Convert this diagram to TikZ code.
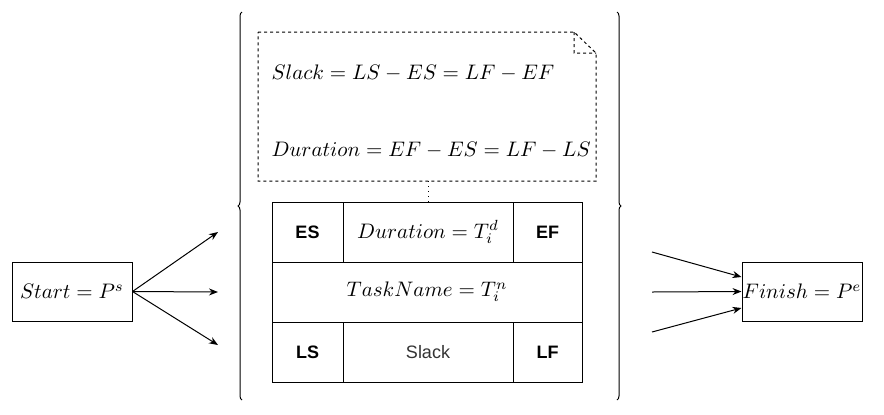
\RequirePackage{fix-cm}
\documentclass[tikz,border=0pt]{standalone}
\usepackage{fontspec}
\setsansfont{Liberation Sans}
\usetikzlibrary{arrows.meta,decorations.pathreplacing}
\begin{document}
\begin{tikzpicture}[x=0.5pt,y=-0.5pt,line width=0.5pt,
                    >={Stealth[length=4.5pt,width=3.5pt]},
                    eq/.style={font=\fontsize{10.5}{13}\selectfont},
                    event/.style={draw,eq,minimum width=60pt,minimum height=29.5pt,inner sep=0pt},
                    cell/.style={draw,minimum height=30pt,inner sep=0pt},
                    tag/.style={font=\sffamily\bfseries\fontsize{9}{11}\selectfont},
                    curly/.style={decorate,decoration={brace,amplitude=2pt}}]
\useasboundingbox (0,0) rectangle (884,414);
% events
\node[event] (start) at (72,291.5) {$Start = P^s$};
\node[event] (finish) at (802,291.5) {$Finish = P^e$};
% note
\draw[dash pattern=on 1.5pt off 1.5pt] (258,32) -- (574,32) -- (596,53) -- (596,181) -- (258,181) -- cycle
    (574,32) -- (574,53) -- (596,53);
\coordinate (note) at (428,181);
\node[eq,anchor=west,inner sep=0pt] (slackeq) at (271,73) {$Slack = LS - ES = LF - EF$};
\node[eq,anchor=west,inner sep=0pt] (dureq) at (271,150) {$Duration = EF - ES = LF - LS$};
% task box
\node[cell,tag,minimum width=35.5pt] (es) at (307.5,232) {ES};
\node[cell,eq,minimum width=85pt] (dur) at (428,232) {$Duration = T_i^d$};
\node[cell,tag,minimum width=34.5pt] (ef) at (547.5,232) {EF};
\node[cell,eq,minimum width=155pt] (name) at (427,292) {$TaskName = T_i^n$};
\node[cell,tag,minimum width=35.5pt] (ls) at (307.5,352) {LS};
\node[cell,font=\sffamily\fontsize{9}{11}\selectfont,text=black!80,minimum width=85pt] (slk) at (428,352) {Slack};
\node[cell,tag,minimum width=34.5pt] (lf) at (547.5,352) {LF};
\draw[dotted] (note) -- (dur.north);
% braces
\draw[curly] (242,400) -- (242,12);
\draw[curly] (617,12) -- (617,400);
% arrows
\foreach \y [count=\i] in {232,292,345} {
  \coordinate (in\i) at (218,\y);
  \draw[->] (start.east) -- (in\i);
}
\foreach \y/\s [count=\i] in {252/7.25pt,292/0pt,332/-8.25pt} {
  \coordinate (out\i) at (652,\y);
  \draw[->] (out\i) -- ([yshift=\s]finish.west);
}
\end{tikzpicture}
\end{document}
